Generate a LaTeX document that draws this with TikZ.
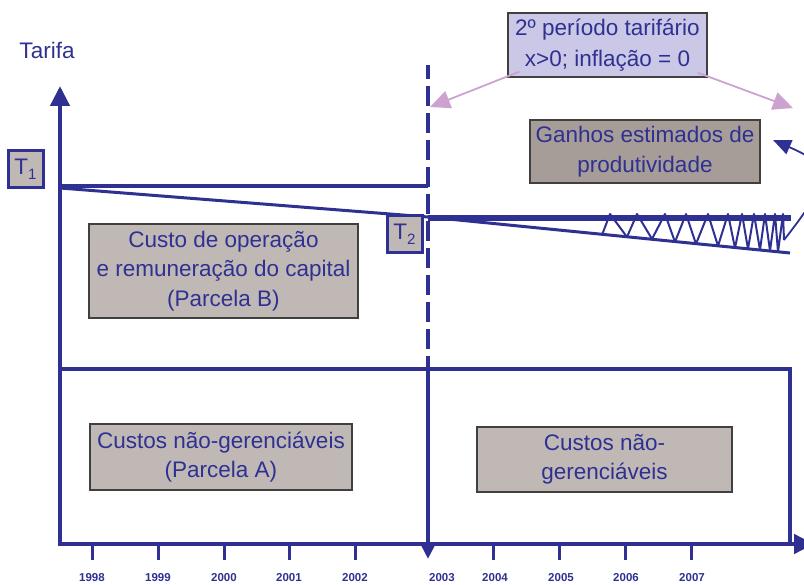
\documentclass[tikz,border=0pt]{standalone}
\usepackage{fontspec}
\setmainfont{Liberation Sans}
\usetikzlibrary{arrows.meta}
\definecolor{tarblue}{RGB}{46,49,146}
\definecolor{boxgray}{RGB}{192,184,181}
\definecolor{gainbrown}{RGB}{166,156,152}
\definecolor{lavender}{RGB}{203,199,230}
\definecolor{pinkline}{RGB}{204,162,207}
\tikzset{
  axis/.style={tarblue, line width=4.5pt},
  textbox/.style={draw=black!75, line width=1.2pt, fill=boxgray, text=tarblue, align=center, inner sep=0pt, font=\fontsize{22.5}{29.5}\selectfont},
  tbox/.style={draw=tarblue, line width=3pt, fill=boxgray, text=tarblue, minimum width=35pt, minimum height=37pt, inner sep=0pt, font=\fontsize{22.5}{22.5}\selectfont},
  year/.style={text=tarblue, font=\fontsize{11.5}{11.5}\selectfont\bfseries},
  pinkarrow/.style={pinkline, line width=1.8pt, -{Triangle[length=20pt,width=18pt]}},
}
\newcommand{\tsub}[1]{T\raisebox{-5pt}{\fontsize{15}{15}\selectfont #1}}
\begin{document}
\begin{tikzpicture}[x=1pt,y=-1pt]
\useasboundingbox (0,0) rectangle (804,585);
\clip (0,0) rectangle (804,585);
\node[text=tarblue, font=\fontsize{22.5}{22.5}\selectfont] (tarifa) at (47,50) {Tarifa};
% axes
\coordinate (orig) at (60,544);
\draw[axis, -{Triangle[length=20pt,width=19pt]}] (60,546) -- (60,86);
\draw[axis, -{Triangle[length=20pt,width=19pt]}] (58,544) -- (814,544);
\foreach \x in {92,158,224,289,355,493,559,625,691}
  \draw[tarblue, line width=3pt] (\x,544) -- (\x,560);
\foreach \x/\yr in {92/1998,158/1999,224/2000,289/2001,355/2002,442/2003,495/2004,561/2005,626/2006,692/2007}
  \node[year] (y\yr) at (\x,578) {\yr};
% cost blocks
\draw[axis] (60,369) rectangle (790,544);
\draw[axis] (60,186) -- (428,186);
\draw[axis, dash pattern=on 20pt off 7pt, dash phase=6pt, -{Triangle[length=16pt,width=15pt]}] (428,65) -- (428,559);
\draw[axis] (428,369) -- (428,544);
% tariff path
\draw[tarblue, line width=3pt] (60,188) -- (428,217) -- (790,253);
\draw[tarblue, line width=5.5pt] (428,218) -- (791,218);
\draw[tarblue, line width=2pt, line join=round] (602,235) -- (610,214) -- (627,237) -- (637,214) -- (652,239) -- (665,214)
  -- (675,242) -- (686,214) -- (696,244) -- (708,214) -- (718,246) -- (728,214) -- (735,248)
  -- (742,214) -- (748,249) -- (754,214) -- (760,250) -- (765,214) -- (770,251) -- (775,214)
  -- (778,252) -- (783,214) -- (784,240) coordinate (zend);
% labels
\node[textbox, minimum width=269pt, minimum height=94pt] (parcb) at (223.5,271) {Custo de operação\\e remuneração do capital\\(Parcela B)};
\node[textbox, minimum width=262pt, minimum height=66pt] (parca) at (221,457) {Custos não-gerenciáveis\\(Parcela A)};
\node[textbox, minimum width=255pt, minimum height=65pt] (naoger) at (604.5,459.5) {Custos não-\\gerenciáveis};
\node[textbox, fill=gainbrown, minimum width=230pt, minimum height=63pt] (ganhos) at (645,151.5) {Ganhos estimados de\\produtividade};
\node[tbox] (t1) at (25.5,169.5) {\tsub{1}};
\node[tbox] (t2) at (404.5,234.5) {\tsub{2}};
\node[textbox, fill=lavender, line width=1.5pt, minimum width=199pt, minimum height=64pt, font=\fontsize{22.5}{31}\selectfont] (period) at (607.5,45) {2º período tarifário\\x>0; inflação = 0};
% arrows
\coordinate (ltip) at (430,107);
\coordinate (rtip) at (793,108);
\coordinate (gtip) at (773,140);
\draw[pinkarrow] ([xshift=12pt,yshift=6pt]period.south west) -- (ltip);
\draw[pinkarrow] ([xshift=-10pt,yshift=5pt]period.south east) -- (rtip);
\draw[tarblue, line width=1.8pt, -{Triangle[length=18pt,width=15pt]}] (zend) .. controls (835,175) and (830,165) .. (gtip);
\end{tikzpicture}
\end{document}
